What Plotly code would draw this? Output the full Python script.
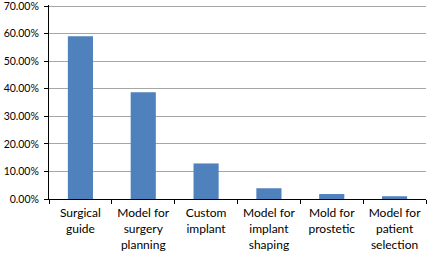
import plotly.graph_objects as go

categories = ["Surgical<br>guide", "Model for<br>surgery<br>planning", "Custom<br>implant",
              "Model for<br>implant<br>shaping", "Mold for<br>prostetic", "Model for<br>patient<br>selection"]
values = [0.591, 0.387, 0.129, 0.039, 0.018, 0.010]
y_ticks = [0, 0.1, 0.2, 0.3, 0.4, 0.5, 0.6, 0.7]

fig = go.Figure(go.Bar(x=categories, y=values, marker_color="#4F81BD",
                       marker_line_width=0))
fig.update_layout(
    width=427, height=253,
    margin=dict(l=49, r=1, t=5, b=54, autoexpand=False),
    plot_bgcolor="white", paper_bgcolor="white",
    bargap=0.6, showlegend=False,
    font=dict(family="Lato, Open Sans, sans-serif", size=12, color="black"),
)
fig.update_xaxes(showline=True, linecolor="black", linewidth=1, automargin=False,
                 ticks="outside", tickson="boundaries", ticklen=4, tickcolor="black",
                 ticklabelstandoff=3, showgrid=False)
fig.update_yaxes(range=[0, 0.704], tickvals=y_ticks, tickformat=".2%", automargin=False,
                 showline=True, linecolor="black", linewidth=1,
                 ticks="outside", ticklen=4, tickcolor="black", ticklabelstandoff=3,
                 ticklabeloverflow="allow", tickfont=dict(size=10.5),
                 showgrid=True, gridcolor="#A6A6A6", gridwidth=1, zeroline=False)
fig.write_html("out.html", config={"displayModeBar": False},
               post_script="document.body.style.margin='0';document.body.style.overflow='hidden';")
